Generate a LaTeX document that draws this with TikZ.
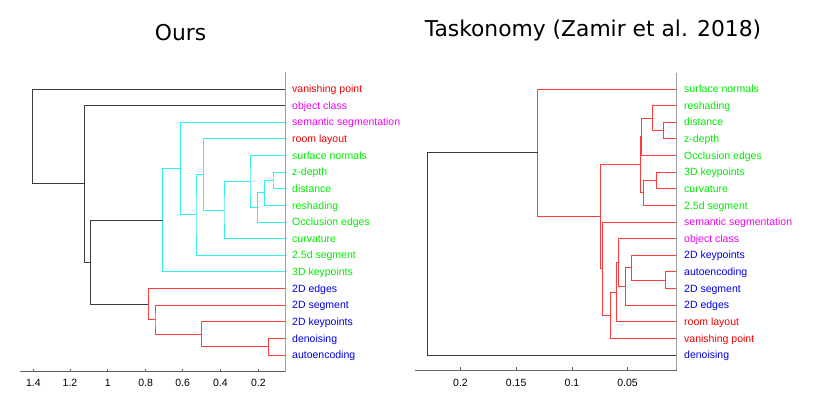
\documentclass[tikz,border=0pt]{standalone}
\usepackage{fontspec}
\setmainfont{Liberation Sans}
\newfontfamily\titlefont{DejaVu Sans}
\usetikzlibrary{calc}
\definecolor{tgreen}{RGB}{0,235,0}
\definecolor{tmag}{RGB}{240,0,240}
\definecolor{tred}{RGB}{240,0,0}
\definecolor{tblue}{RGB}{0,0,235}
\definecolor{lcyan}{RGB}{50,240,240}
\definecolor{lnred}{RGB}{255,60,60}
\definecolor{lnblack}{RGB}{60,60,60}
\definecolor{axdark}{RGB}{100,100,100}
\definecolor{axlight}{RGB}{160,160,160}
\tikzset{
  lk/.style={line width=0.9pt},
  cy/.style={lk, draw=lcyan},
  rd/.style={lk, draw=lnred},
  bk/.style={lk, draw=lnblack},
  lab/.style={anchor=base west, inner sep=0pt, font=\fontsize{10.5}{12}\selectfont},
  ticklab/.style={anchor=base, inner sep=0pt, font=\fontsize{10.5}{12}\selectfont},
  titlelab/.style={anchor=base, inner sep=0pt, font=\titlefont\fontsize{21.8}{26}\selectfont},
  axline/.style={line width=0.9pt, draw=axdark},
  vaxline/.style={line width=1pt, draw=axlight},
}
\newcommand\mergeat[5]{%
  \path let \p1=($(#3)!0.5!(#4)$) in (#2pt,\y1) coordinate (#1);
  \draw[#5] (#3) -| (#1) |- (#4);}
\begin{document}
\begin{tikzpicture}[x=1pt,y=-1pt]
\useasboundingbox (0,0) rectangle (829,395);
\fill[white] (0,0) rectangle (829,395);
% titles
\node[titlelab] (tours) at (180.5,41) {Ours};
\node[titlelab] (ttask) at (593,37) {Taskonomy (Zamir et al. 2018)};
% left leaves
\foreach \nm/\txt/\col [count=\i from 0] in {
  Lvp/vanishing point/tred, Loc/object class/tmag, Lss/semantic segmentation/tmag,
  Lrl/room layout/tred, Lsn/surface normals/tgreen, Lzd/z-depth/tgreen,
  Ldi/distance/tgreen, Lre/reshading/tgreen, Loe/Occlusion edges/tgreen,
  Lcu/curvature/tgreen, Lsd/2.5d segment/tgreen, Lkt/3D keypoints/tgreen,
  Led/2D edges/tblue, Lsg/2D segment/tblue, Lkp/2D keypoints/tblue,
  Ldn/denoising/tblue, Lae/autoencoding/tblue}{
  \coordinate (\nm) at (285,{89+16.625*\i});
  \node[lab,text=\col] (\nm t) at (292,{92.7+16.625*\i}) {\txt};
}
% right leaves
\foreach \nm/\txt/\col [count=\i from 0] in {
  Rsn/surface normals/tgreen, Rre/reshading/tgreen, Rdi/distance/tgreen,
  Rzd/z-depth/tgreen, Roe/Occlusion edges/tgreen, Rkt/3D keypoints/tgreen,
  Rcu/curvature/tgreen, Rsd/2.5d segment/tgreen, Rss/semantic segmentation/tmag,
  Roc/object class/tmag, Rkp/2D keypoints/tblue, Rae/autoencoding/tblue,
  Rsg/2D segment/tblue, Red/2D edges/tblue, Rrl/room layout/tred,
  Rvp/vanishing point/tred, Rdn/denoising/tblue}{
  \coordinate (\nm) at (676.7,{89+16.625*\i});
  \node[lab,text=\col] (\nm t) at (684,{92.7+16.625*\i}) {\txt};
}
% left tree
\mergeat{m1}{273}{Lzd}{Ldi}{cy}
\mergeat{m2}{264.3}{m1}{Lre}{cy}
\mergeat{m3}{257.3}{m2}{Loe}{cy}
\mergeat{m4}{250}{Lsn}{m3}{cy}
\mergeat{m5}{224}{m4}{Lcu}{cy}
\mergeat{m6}{203.3}{Lrl}{m5}{cy}
\mergeat{m7}{196}{m6}{Lsd}{cy}
\mergeat{m8}{180.3}{Lss}{m7}{cy}
\mergeat{m9}{162.7}{m8}{Lkt}{cy}
\mergeat{m10}{268.3}{Ldn}{Lae}{rd}
\mergeat{m11}{201.7}{Lkp}{m10}{rd}
\mergeat{m12}{155}{Lsg}{m11}{rd}
\mergeat{m13}{148.3}{Led}{m12}{rd}
\mergeat{m14}{90.3}{m9}{m13}{bk}
\mergeat{m15}{84.7}{Loc}{m14}{bk}
\mergeat{m16}{32.3}{Lvp}{m15}{bk}
% right tree
\mergeat{r1}{663.3}{Rdi}{Rzd}{rd}
\mergeat{r2}{652.3}{Rre}{r1}{rd}
\mergeat{r3}{641}{r2}{Roe}{rd}
\mergeat{r4}{656.7}{Rkt}{Rcu}{rd}
\mergeat{r5}{643.3}{r4}{Rsd}{rd}
\mergeat{r6}{640.7}{r3}{r5}{rd}
\mergeat{r7}{665.5}{Rae}{Rsg}{rd}
\mergeat{r8}{631.3}{Rkp}{r7}{rd}
\mergeat{r9}{625.8}{r8}{Red}{rd}
\mergeat{r10}{618.5}{Roc}{r9}{rd}
\mergeat{r11}{616}{r10}{Rrl}{rd}
\mergeat{r12}{610.3}{r11}{Rvp}{rd}
\mergeat{r13}{602.3}{Rss}{r12}{rd}
\mergeat{r14}{600.7}{r6}{r13}{rd}
\mergeat{r15}{537.7}{Rsn}{r14}{rd}
\mergeat{r16}{427.3}{r15}{Rdn}{bk}
% left axes
\draw[vaxline] (285,72) -- (285,371.7);
\draw[axline] (20,371.7) -- (285,371.7);
\foreach \x/\t in {33.3/1.4, 70/1.2, 107.7/1, 145.7/0.8, 182.7/0.6, 220.3/0.4, 258.3/0.2}{
  \draw[axline] (\x,371.7) -- (\x,368.5);
  \node[ticklab] at (\x,386.5) {\t};
}
% right axes
\draw[vaxline] (676.7,72.7) -- (676.7,370);
\draw[axline] (415,370) -- (676.7,370);
\foreach \x/\t in {460.5/0.2, 516.2/0.15, 572/0.1, 627.5/0.05}{
  \draw[axline] (\x,370) -- (\x,366.8);
  \node[ticklab] at (\x,386.5) {\t};
}
\end{tikzpicture}
\end{document}
